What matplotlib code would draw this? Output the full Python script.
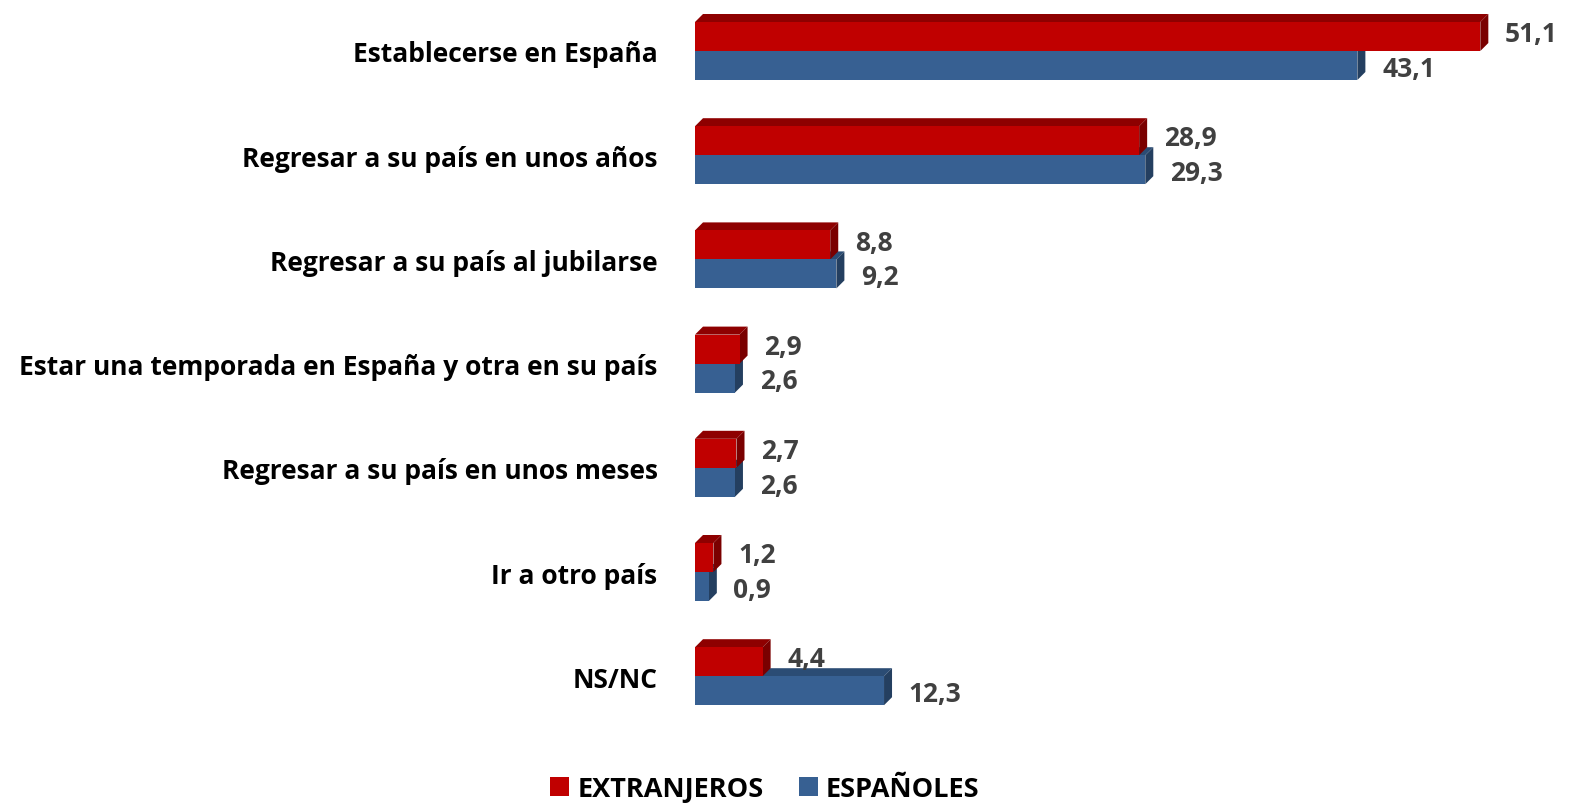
import matplotlib.pyplot as plt
from matplotlib.patches import Polygon, Patch

categories = [
    "Establecerse en España",
    "Regresar a su país en unos años",
    "Regresar a su país al jubilarse",
    "Estar una temporada en España y otra en su país",
    "Regresar a su país en unos meses",
    "Ir a otro país",
    "NS/NC",
]
extranjeros = [51.1, 28.9, 8.8, 2.9, 2.7, 1.2, 4.4]
espanoles = [43.1, 29.3, 9.2, 2.6, 2.6, 0.9, 12.3]
series_names = ["EXTRANJEROS", "ESPAÑOLES"]

RED = ("#C00000", "#8E0000", "#7A0000")    # front, top, side
BLUE = ("#376092", "#2B4C74", "#243F60")

plt.rcParams["font.family"] = ["Open Sans", "DejaVu Sans"]
plt.rcParams["font.weight"] = "bold"

fig = plt.figure(figsize=(15.71, 8.04), dpi=100)
ax = fig.add_axes([695 / 1571, 74 / 804, 876 / 1571, 730 / 804])

px_x = 876 / 57.0          # pixels per data unit (x)
px_y = 104.2               # pixels per category
first = 52                 # pixel row of the first category
h = 29 / px_y              # bar thickness
dx = 8 / px_x              # 3d depth, x
dy = 8 / px_y              # 3d depth, y


def bar3d(y0, y1, w, cols):
    # y0 = top edge (smaller), y1 = bottom edge; axis is inverted
    front, top, side = cols
    ax.add_patch(Polygon([(0, y0), (w, y0), (w + dx, y0 - dy), (dx, y0 - dy)],
                         closed=True, facecolor=top, edgecolor="none", zorder=2))
    ax.add_patch(Polygon([(w, y0), (w, y1), (w + dx, y1 - dy), (w + dx, y0 - dy)],
                         closed=True, facecolor=side, edgecolor="none", zorder=2))
    ax.barh([(y0 + y1) / 2], [w], height=y1 - y0, left=0, color=front,
            edgecolor="none", zorder=3)


def lbl(v):
    return f"{v:.1f}".replace(".", ",")


for i, (r, b) in enumerate(zip(extranjeros, espanoles)):
    bar3d(i, i + h, b, BLUE)
    bar3d(i - h, i, r, RED)
    ax.annotate(lbl(r), (r + dx, i - h / 2), xytext=(12, 2), textcoords="offset points",
                va="center", ha="left", fontsize=19, color="#404040", fontweight="bold")
    ax.annotate(lbl(b), (b + dx, i + h / 2), xytext=(12, -2), textcoords="offset points",
                va="center", ha="left", fontsize=19, color="#404040", fontweight="bold")

ax.set_xlim(0, 57.0)
ax.set_ylim((730 - first) / px_y, -first / px_y)
ax.set_yticks(range(len(categories)))
ax.set_yticklabels(categories, fontsize=19, fontweight="bold")
ax.tick_params(axis="y", length=0, pad=27)
ax.set_xticks([])
for s in ax.spines.values():
    s.set_visible(False)

handles = [Patch(facecolor=RED[0]), Patch(facecolor=BLUE[0])]
fig.legend(handles, series_names, loc="center", bbox_to_anchor=(0.487, 1 - 790 / 804),
           ncol=2, frameon=False, handlelength=0.7, handleheight=0.7,
           handletextpad=0.3, columnspacing=1.3,
           prop={"size": 19.5, "weight": "bold"})

fig.savefig("out.png", dpi=100)
